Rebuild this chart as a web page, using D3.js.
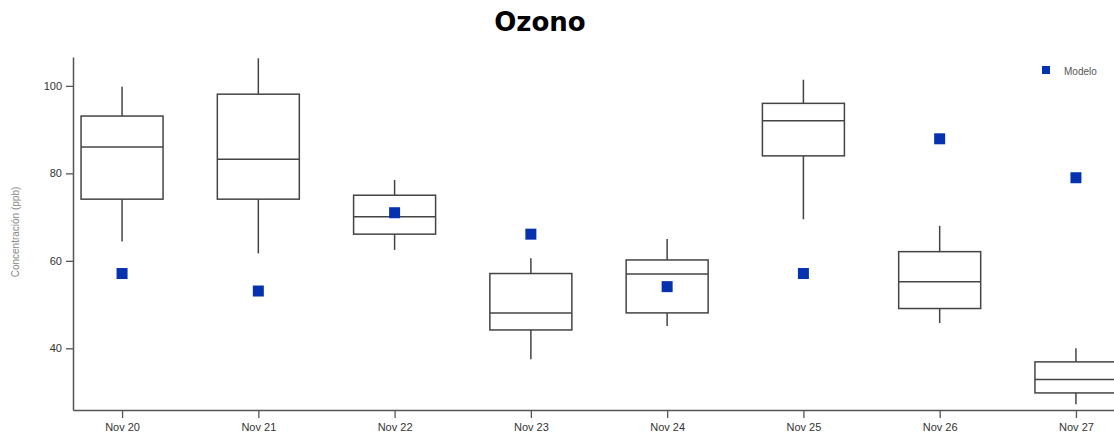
<!DOCTYPE html>
<html><head><meta charset="utf-8">
<script src="https://cdn.jsdelivr.net/npm/d3@7"></script>
<style>body{margin:0;background:#fff;overflow:hidden}</style>
</head><body>
<script>
const categories = ["Nov 20","Nov 21","Nov 22","Nov 23","Nov 24","Nov 25","Nov 26","Nov 27"];
const whiskerLow  = [64.4, 61.7, 62.5, 37.5, 45.1, 69.5, 45.8, 27.2];
const q1          = [74.1, 74.1, 66.1, 44.2, 48.1, 84.0, 49.1, 29.8];
const median      = [86.0, 83.2, 70.1, 48.1, 57.0, 92.0, 55.2, 32.9];
const q3          = [93.1, 98.1, 75.0, 57.1, 60.2, 96.0, 62.1, 36.9];
const whiskerHigh = [99.8, 106.3, 78.5, 60.6, 65.0, 101.4, 68.0, 40.0];
const modelo      = [57.1, 53.1, 71.0, 66.1, 54.1, 57.1, 87.9, 79.0];
const yTicks = [40, 60, 80, 100];

const W = 1114, H = 442;
const m = {left: 73, right: -11, top: 57, bottom: 32};
const svg = d3.select("body").append("svg").attr("width", W).attr("height", H);

const x = d3.scalePoint().domain(categories).range([m.left, W - m.right]).padding(0.36);
const y = d3.scaleLinear().domain([25.9, 106.6]).range([H - m.bottom, m.top]);

svg.append("text").attr("x", 540).attr("y", 31).attr("text-anchor", "middle")
  .style("font-family", "DejaVu Sans").style("font-weight", "bold").style("font-size", "26px")
  .attr("fill", "#000").text("Ozono");

// axes
const yAxis = svg.append("g").attr("transform", `translate(${m.left},0)`)
  .call(d3.axisLeft(y).tickValues(yTicks).tickSize(7).tickSizeOuter(0).tickPadding(4));
const xAxis = svg.append("g").attr("transform", `translate(0,${H - m.bottom})`)
  .call(d3.axisBottom(x).tickSize(8).tickSizeOuter(0).tickPadding(5));
[yAxis, xAxis].forEach(g => {
  g.select(".domain").attr("stroke", "#555").attr("stroke-width", 1.5);
  g.selectAll(".tick line").attr("stroke", "#555").attr("stroke-width", 1.3);
  g.selectAll("text").style("font-family", "Liberation Sans, Arial").style("font-size", "11px").attr("fill", "#333");
});

svg.append("text").attr("transform", `translate(19,232) rotate(-90)`).attr("text-anchor", "middle")
  .style("font-family", "Liberation Sans, Arial").style("font-size", "10px").attr("fill", "#888")
  .text("Concentración (ppb)");

// boxes
const bw = 82;
const g = svg.append("g").attr("stroke", "#444").attr("stroke-width", 1.5).attr("fill", "none");
categories.forEach((c, i) => {
  const cx = x(c);
  g.append("line").attr("x1", cx).attr("x2", cx).attr("y1", y(whiskerHigh[i])).attr("y2", y(q3[i]));
  g.append("line").attr("x1", cx).attr("x2", cx).attr("y1", y(q1[i])).attr("y2", y(whiskerLow[i]));
  g.append("rect").attr("x", cx - bw/2).attr("width", bw)
    .attr("y", y(q3[i])).attr("height", y(q1[i]) - y(q3[i])).attr("fill", "none");
  g.append("line").attr("x1", cx - bw/2).attr("x2", cx + bw/2).attr("y1", y(median[i])).attr("y2", y(median[i]));
});

// model points
const s = 11;
svg.append("g").selectAll("rect").data(categories).join("rect")
  .attr("x", d => x(d) - s/2).attr("y", (d, i) => y(modelo[i]) - s/2)
  .attr("width", s).attr("height", s).attr("fill", "#0632b0");

// legend
svg.append("rect").attr("x", 1042).attr("y", 66).attr("width", 8).attr("height", 8).attr("fill", "#0632b0");
svg.append("text").attr("x", 1064).attr("y", 74.5)
  .style("font-family", "Liberation Sans, Arial").style("font-size", "10px").attr("fill", "#555").text("Modelo");
</script>
</body></html>
